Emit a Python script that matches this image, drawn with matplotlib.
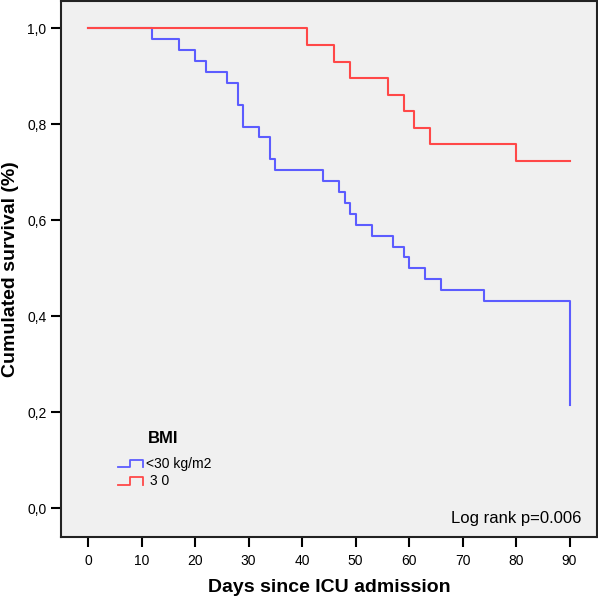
"""
Kaplan-Meier survival by BMI group, redrawn in matplotlib.
"""
import matplotlib
matplotlib.use("Agg")
import matplotlib.pyplot as plt
from matplotlib.lines import Line2D

# survival steps (days, cumulative survival)
blue_times = [0, 12, 17, 20, 22, 26, 28, 29, 32, 34, 35, 44, 47, 48, 49, 50,
              53, 57, 59, 60, 63, 66, 74, 90]
blue_surv = [1.0, 0.977, 0.955, 0.932, 0.909, 0.886, 0.841, 0.795, 0.773,
             0.727, 0.704, 0.682, 0.659, 0.636, 0.614, 0.591, 0.568, 0.545,
             0.523, 0.500, 0.477, 0.455, 0.432, 0.215]
red_times = [0, 41, 46, 49, 56, 59, 61, 64, 80, 90]
red_surv = [1.0, 0.966, 0.931, 0.897, 0.862, 0.828, 0.793, 0.759, 0.724, 0.724]

group_labels = ["<30 kg/m2", " 3 0"]
x_ticks = list(range(0, 100, 10))
y_ticks = [0.0, 0.2, 0.4, 0.6, 0.8, 1.0]
y_tick_labels = ["0,0", "0,2", "0,4", "0,6", "0,8", "1,0"]

BLUE = "#5c5cff"
RED = "#ff4848"

plt.rcParams["font.family"] = ["Liberation Sans", "DejaVu Sans"]

fig = plt.figure(figsize=(5.98, 6.01), dpi=100)
ax = fig.add_axes([0.102, 0.1065, 0.896, 0.8925])
ax.set_facecolor("#f0f0f0")

ax.step(blue_times, blue_surv, where="post", color=BLUE, lw=1.5)
ax.step(red_times, red_surv, where="post", color=RED, lw=1.5)

ax.set_xlim(-5.05, 95.1)
ax.set_ylim(-0.06, 1.058)
ax.set_xticks(x_ticks)
ax.set_yticks(y_ticks)
ax.set_yticklabels(y_tick_labels)
ax.tick_params(direction="out", length=7, width=1.5, labelsize=10, colors="black")
ax.tick_params(axis="x", pad=5)

for side in ["left", "bottom", "right", "top"]:
    ax.spines[side].set_linewidth(1.5)
    ax.spines[side].set_color("#222222")

ax.set_xlabel("Days since ICU admission", fontsize=14, fontweight="bold", labelpad=8)
ax.set_ylabel("Cumulated survival (%)", fontsize=14, fontweight="bold", labelpad=6)

# legend block drawn by hand, like the SPSS output
ax.text(0.162, 0.184, "BMI", transform=ax.transAxes, fontsize=12,
        fontweight="bold", va="center", ha="left")
for color, label, ymid in [(BLUE, group_labels[0], 0.137), (RED, group_labels[1], 0.104)]:
    lo, hi = ymid - 0.007, ymid + 0.007
    icon = Line2D([0.106, 0.128, 0.128, 0.153, 0.153],
                  [lo, lo, hi, hi, lo],
                  transform=ax.transAxes, color=color, lw=1.3)
    ax.add_line(icon)
    ax.text(0.159, ymid, label, transform=ax.transAxes, fontsize=10,
            va="center", ha="left")

ax.text(0.972, 0.034, "Log rank p=0.006", transform=ax.transAxes,
        fontsize=12, ha="right", va="center")

fig.savefig("out.png", dpi=100, facecolor="white")
